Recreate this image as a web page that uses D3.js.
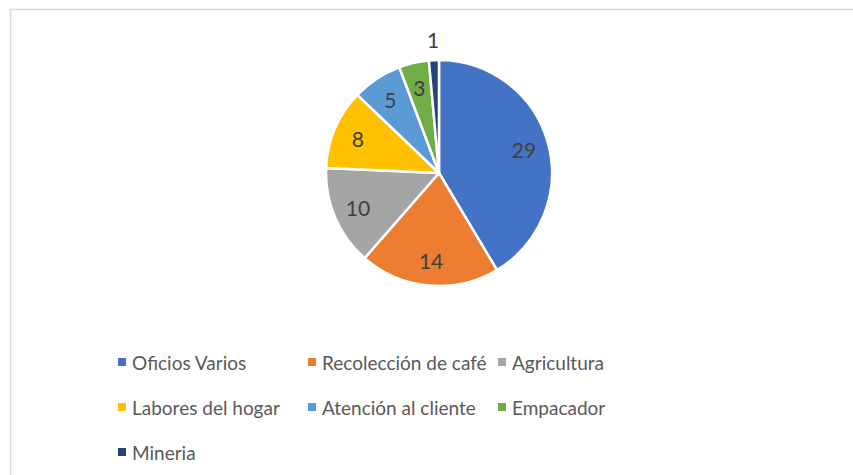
<!DOCTYPE html>
<html><head><meta charset="utf-8">
<script src="https://cdn.jsdelivr.net/npm/d3@7"></script>
<style>html,body{margin:0;padding:0;background:#fff;}svg{display:block;}</style>
</head><body>
<svg id="c" width="853" height="475"></svg>
<script>
const categories = ["Oficios Varios","Recolección de café","Agricultura","Labores del hogar","Atención al cliente","Empacador","Mineria"];
const values = [29,14,10,8,5,3,1];
const colors = ["#4472C4","#ED7D31","#A5A5A5","#FFC000","#5B9BD5","#70AD47","#264478"];

const svg = d3.select("#c");
const FONT = "Lato, 'Open Sans', sans-serif";
// frame
svg.append("rect").attr("x",10.5).attr("y",9.5).attr("width",900).attr("height",500)
  .attr("fill","#fff").attr("stroke","#d9d9d9").attr("stroke-width",1.5);

const cx = 439, cy = 173, r = 113;
const data = categories.map((c,i)=>({cat:c, value:values[i], color:colors[i]}));
const pie = d3.pie().value(d=>d.value).sort(null);
const arcs = pie(data);
const arc = d3.arc().innerRadius(0).outerRadius(r);
const g = svg.append("g").attr("transform",`translate(${cx},${cy})`);
g.selectAll("path").data(arcs).join("path")
  .attr("d",arc).attr("fill",d=>d.data.color)
  .attr("stroke","#fff").attr("stroke-width",2.5).attr("stroke-linejoin","round");

const labelArcIn = d3.arc().innerRadius(r*0.78).outerRadius(r*0.78);
const labelArcOut = d3.arc().innerRadius(r*1.18).outerRadius(r*1.18);
g.selectAll("text").data(arcs).join("text")
  .attr("transform",d=>{
    const small = (d.endAngle-d.startAngle) < 0.15;
    const p = (small?labelArcOut:labelArcIn).centroid(d);
    return `translate(${p[0]},${p[1]})`;
  })
  .attr("text-anchor","middle").attr("dominant-baseline","central")
  .attr("font-family",FONT).attr("font-size",21).attr("fill","#404040")
  .text(d=>d.data.value);

// legend
const legX0 = 118, colStep = 190, rowY0 = 362, rowStep = 45, perRow = 3;
const leg = svg.append("g");
data.forEach((d,i)=>{
  const col = i % perRow, row = Math.floor(i/perRow);
  const x = legX0 + col*colStep, y = rowY0 + row*rowStep;
  leg.append("rect").attr("x",x).attr("y",y-4).attr("width",8).attr("height",8).attr("fill",d.color);
  leg.append("text").attr("x",x+14).attr("y",y).attr("dominant-baseline","central")
    .attr("font-family",FONT).attr("font-size",19).attr("fill","#595959").text(d.cat);
});
</script>
</body></html>
